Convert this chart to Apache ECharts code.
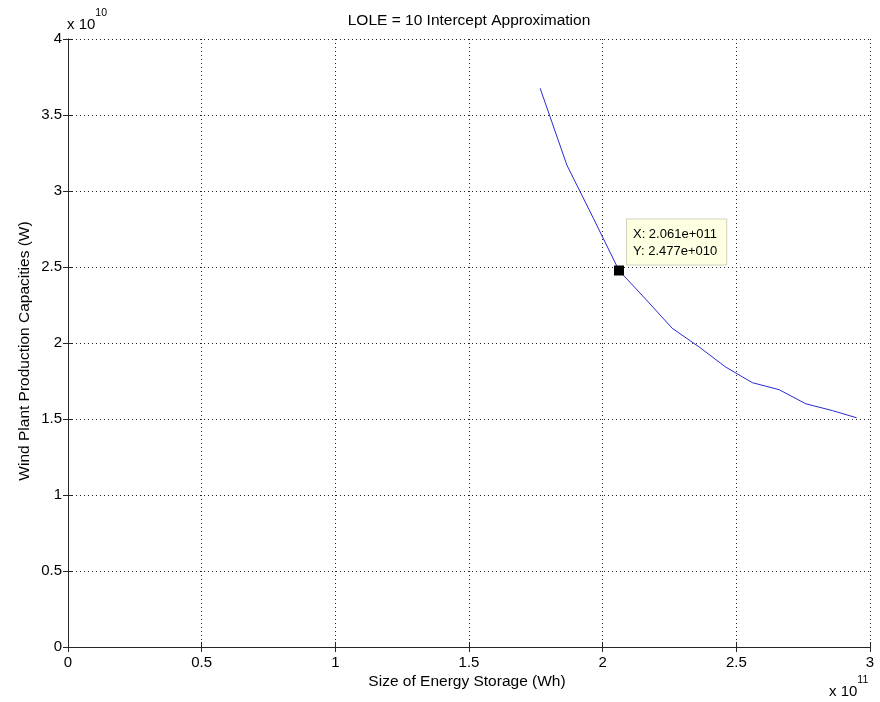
<!DOCTYPE html>
<html>
<head>
<meta charset="utf-8">
<script src="https://cdn.jsdelivr.net/npm/echarts@6/dist/echarts.min.js"></script>
<style>
  html, body { margin: 0; padding: 0; background: #fff; }
  #chart { width: 880px; height: 702px; }
</style>
</head>
<body>
<div id="chart"></div>
<script>
// Storage size (Wh) against the wind capacity (W) that meets LOLE = 10
const storageWh = [1.766e11, 1.866e11, 1.966e11, 2.061e11, 2.16e11, 2.26e11, 2.36e11,
                   2.46e11, 2.56e11, 2.66e11, 2.76e11, 2.86e11, 2.95e11];
const windCapacityW = [3.676e10, 3.171e10, 2.818e10, 2.477e10, 2.29e10, 2.097e10, 1.975e10,
                       1.842e10, 1.739e10, 1.693e10, 1.600e10, 1.555e10, 1.508e10];

// Data cursor point
const tipX = 2.061e11;
const tipY = 2.477e10;

const xTicks = [0, 0.5, 1, 1.5, 2, 2.5, 3];          // ×10^11
const yTicks = [0, 0.5, 1, 1.5, 2, 2.5, 3, 3.5, 4];  // ×10^10
const xScale = 1e11, yScale = 1e10;

const titleText = 'LOLE = 10 Intercept Approximation';
const xName = 'Size of Energy Storage (Wh)';
const yName = 'Wind Plant Production Capacities (W)';

const FONT = '"Liberation Sans", Arial, sans-serif';

// e.g. 2.061e+011
function sci(v) {
  const s = v.toExponential(3);
  const m = s.match(/^(.*)e([+-])(\d+)$/);
  return m[1] + 'e' + m[2] + m[3].padStart(3, '0');
}
function tickFmt(scale) {
  return v => String(Number((v / scale).toFixed(3)));
}

const chart = echarts.init(document.getElementById('chart'), null, { renderer: 'canvas' });

const gridLine = { show: true, lineStyle: { color: '#222', width: 1, type: [1, 3] } };
const axLine = { show: true, lineStyle: { color: '#262626', width: 1 } };
const tick = { show: true, inside: true, length: 5, lineStyle: { color: '#262626' } };

const xMin = xTicks[0] * xScale, xMax = xTicks[xTicks.length - 1] * xScale;
const yMin = yTicks[0] * yScale, yMax = yTicks[yTicks.length - 1] * yScale;
const xInt = (xTicks[1] - xTicks[0]) * xScale, yInt = (yTicks[1] - yTicks[0]) * yScale;

const expRich = {
  b: { fontFamily: FONT, fontSize: 15, padding: [9, 0, 0, 0] },
  s: { fontFamily: FONT, fontSize: 10.5, verticalAlign: 'top' }
};

chart.setOption({
  animation: false,
  backgroundColor: '#ffffff',
  grid: { left: 68, right: 10, top: 39, bottom: 55 },
  xAxis: [
    {
      type: 'value', min: xMin, max: xMax, interval: xInt,
      axisLine: axLine, axisTick: tick, splitLine: gridLine,
      axisLabel: { formatter: tickFmt(xScale), color: '#000', fontFamily: FONT, fontSize: 15, margin: 8 }
    },
    {
      type: 'value', position: 'top', min: xMin, max: xMax, interval: xInt,
      axisLine: axLine, axisTick: tick, splitLine: { show: false }, axisLabel: { show: false }
    }
  ],
  yAxis: [
    {
      type: 'value', min: yMin, max: yMax, interval: yInt,
      axisLine: axLine, axisTick: tick, splitLine: gridLine,
      axisLabel: { formatter: tickFmt(yScale), color: '#000', fontFamily: FONT, fontSize: 15, margin: 6 }
    },
    {
      type: 'value', position: 'right', min: yMin, max: yMax, interval: yInt,
      axisLine: axLine, axisTick: tick, splitLine: { show: false }, axisLabel: { show: false }
    }
  ],
  graphic: [
    {
      type: 'text', x: 469, y: 21,
      style: { text: titleText, fill: '#000', font: '15.5px ' + FONT, align: 'center', verticalAlign: 'middle' }
    },
    {
      type: 'text', x: 467, y: 682,
      style: { text: xName, fill: '#000', font: '15.5px ' + FONT, align: 'center', verticalAlign: 'middle' }
    },
    {
      type: 'text', x: 25, y: 351, rotation: Math.PI / 2,
      style: { text: yName, fill: '#000', font: '15.5px ' + FONT, align: 'center', verticalAlign: 'middle' }
    },
    {
      type: 'text', left: 67, top: 8,
      style: { text: '{b|x 10}{s|10}', fill: '#000', rich: expRich }
    },
    {
      type: 'text', left: 829, top: 675,
      style: { text: '{b|x 10}{s|11}', fill: '#000', rich: expRich }
    }
  ],
  series: [
    {
      type: 'line',
      data: storageWh.map((x, i) => [x, windCapacityW[i]]),
      showSymbol: false, symbol: 'none',
      lineStyle: { color: '#2a2ad6', width: 1 },
      z: 3
    },
    {
      type: 'scatter',
      data: [[tipX, tipY]],
      symbol: 'rect', symbolSize: 10,
      itemStyle: { color: '#000', opacity: 1 },
      z: 5,
      label: {
        show: true,
        position: [13, -46],
        align: 'left', verticalAlign: 'top',
        formatter: () => 'X: ' + sci(tipX) + '\nY: ' + sci(tipY),
        color: '#000', fontFamily: FONT, fontSize: 13, lineHeight: 17,
        backgroundColor: '#ffffe1', borderColor: '#d2d2bc', borderWidth: 1,
        padding: [6, 9, 5, 6]
      }
    }
  ]
});
</script>
</body>
</html>
